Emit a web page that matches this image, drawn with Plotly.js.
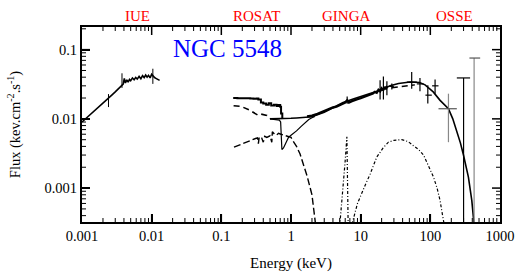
<!DOCTYPE html>
<html><head><meta charset="utf-8">
<script src="https://cdn.plot.ly/plotly-3.0.1.min.js"></script>
<style>html,body{margin:0;padding:0;background:#fff}#chart{width:521px;height:279px}</style>
</head><body><div id="chart"></div>
<script>
// ---- Data (energy in keV, flux in keV cm^-2 s^-1) ----
const iueE = [0.00100,0.00115,0.00130,0.00150,0.00170,0.00190,0.00215,0.00240,0.00270,0.00300,0.00330,0.00360,0.00375,0.00390,0.00405,0.00420,0.00440,0.00460,0.00480,0.00500,0.00530,0.00560,0.00590,0.00620,0.00660,0.00700,0.00740,0.00780,0.00820,0.00860,0.00900,0.00950,0.01000,0.01040,0.01070,0.01100,0.01150,0.01200,0.01300];
const iueF = [0.0090,0.0102,0.0113,0.0127,0.0142,0.0158,0.0177,0.0198,0.0222,0.0245,0.0268,0.0292,0.0305,0.0318,0.0385,0.0330,0.0365,0.0340,0.0372,0.0355,0.0390,0.0368,0.0395,0.0375,0.0410,0.0380,0.0420,0.0395,0.0430,0.0400,0.0425,0.0390,0.0440,0.0420,0.0400,0.0395,0.0385,0.0375,0.0360];
const iueErrUp = [0,0,0,0,0,0,0,0.0030,0,0,0,0,0.0150,0,0,0,0,0,0,0,0,0,0,0,0,0,0,0,0,0,0,0,0,0.0110,0,0,0,0,0];
const iueErrDn = [0,0,0,0,0,0,0,0.0050,0,0,0,0,0.0025,0,0,0,0,0,0,0,0,0,0,0,0,0,0,0,0,0,0,0,0,0.0100,0,0,0,0,0];

const rosatTopE = [0.148,0.17,0.20,0.23,0.26,0.29,0.32,0.34,0.37,0.40,0.44,0.48,0.52,0.57,0.62,0.66,0.70,0.72,0.75];
const rosatTopF = [0.0200,0.0199,0.0198,0.0199,0.0197,0.0196,0.0197,0.0190,0.0172,0.0166,0.0160,0.0168,0.0156,0.0160,0.0154,0.0158,0.0150,0.0120,0.0102];

const rosatMidE = [0.150,0.17,0.19,0.25,0.33,0.36,0.40,0.45,0.50];
const rosatMidF = [0.0155,0.0153,0.0152,0.0135,0.0114,0.0118,0.0115,0.0112,0.0101];

const softE = [0.152,0.17,0.19,0.22,0.25,0.28,0.31,0.33,0.34,0.35,0.38,0.40,0.42,0.45,0.50,0.53,0.54,0.58,0.62,0.66,0.72,0.80,0.90,1.00,1.07,1.2,1.35,1.5,1.7,2.0,2.16,2.25];
const softF = [0.0039,0.0041,0.0043,0.0046,0.0048,0.0050,0.0052,0.0053,0.0044,0.0055,0.0053,0.0046,0.0056,0.0054,0.0057,0.0046,0.0065,0.0060,0.0058,0.0062,0.0060,0.0058,0.0057,0.0054,0.0048,0.0040,0.0031,0.0023,0.0015,0.00080,0.00040,0.00030];

const absPlE = [0.50,0.60,0.68,0.71,0.72,0.74,0.78,0.85,0.92,1.0,1.1,1.2,1.4,1.6,1.8,2.0,2.2];
const absPlF = [0.0100,0.0099,0.0096,0.0090,0.0050,0.0036,0.0038,0.0046,0.0054,0.0058,0.0062,0.0067,0.0078,0.0089,0.0098,0.0104,0.0108];

const totalE = [0.5,0.6,0.7,0.8,1.0,1.2,1.5,2.0,3.0,4.0,5.6,8,12,19,26.5,35,51,70,84,110,138,160,182,210,240,270,299,330,352,394,415,440];
const totalF = [0.0100,0.0100,0.0100,0.0101,0.0102,0.0103,0.0104,0.0107,0.0125,0.0145,0.0172,0.0195,0.0222,0.0258,0.0300,0.0325,0.0340,0.0335,0.0310,0.0245,0.0185,0.0160,0.0140,0.0100,0.0068,0.0045,0.0030,0.0020,0.00144,0.00066,0.00040,0.00020];

const altE = [28,33,38,45,52,60];
const altF = [0.0282,0.0288,0.0293,0.0300,0.0305,0.0310];

const gingaE = [1.7,2.0,2.4,2.8,3.2,3.6,4.0,4.5,5.0,5.5,6.0,6.4,6.8,7.5,8.2,9.0,10,11,12,13,14,15,16,17,18,19,20,21,22,23,24];
const gingaF = [0.0108,0.0111,0.0118,0.0126,0.0132,0.0139,0.0146,0.0150,0.0158,0.0163,0.0172,0.0185,0.0172,0.0180,0.0188,0.0193,0.0200,0.0208,0.0212,0.0220,0.0226,0.0232,0.0245,0.0238,0.0262,0.0250,0.0275,0.0258,0.0290,0.0268,0.0300];

const gingaErrE = [6.4,19,21.2,23.8,28];
const gingaErrF = [0.0185,0.0270,0.0290,0.0280,0.0295];
const gingaErrUp = [0.0025,0.0090,0.0120,0.0070,0.0030];
const gingaErrDn = [0.0020,0.0080,0.0100,0.0060,0.0030];
const gingaErrX = [0,0,0,0,2];

const ironE = [5.0,5.5,6.0,6.34,6.5,6.6,6.65];
const ironF = [0.00028,0.0008,0.0025,0.0055,0.0018,0.0004,0.0002];

const reflE = [7.5,9,11.6,13.7,17,21,25,30,39,48,57,68,80,95,111,125,138,150,158];
const reflF = [0.0003,0.0006,0.0011,0.0016,0.0028,0.0038,0.0046,0.0049,0.0050,0.0047,0.0041,0.0036,0.0030,0.0021,0.00144,0.0010,0.00066,0.00040,0.0003];

const osseE = [54,71,92,117,300];
const osseF = [0.034,0.032,0.022,0.030,0.039];
const osseErrUp = [0.0134,0.007,0.0085,0.007,0];
const osseErrDn = [0.0067,0.007,0.0054,0.007,0.0388];
const osseErrXp = [10,9,13,14,72];
const osseErrXm = [8,7,7,11,60];

const osseGE = [182,425];
const osseGF = [0.014,0.0756];
const osseGErrUp = [0.0091,0];
const osseGErrDn = [0.0094,0.0754];
const osseGErrXp = [58,94];
const osseGErrXm = [51,61];

const xTickVals = [0.001,0.01,0.1,1,10,100,1000];
const xTickText = ['0.001','0.01','0.1','1','10','100','1000'];
const yTickVals = [0.001,0.01,0.1];
const yTickText = ['0.001','0.01','0.1'];

const missions = ['IUE','ROSAT','GINGA','OSSE'];
const missionX = [0.132,0.419,0.632,0.890];

const xRange = [-3,3];
const yRange = [-3.49,-0.673];

// minor tick positions: 2..9 times each decade, kept inside the axis range
function minorVals(range){const v=[];for(let e=Math.floor(range[0]);e<=Math.ceil(range[1]);e++){for(let d=2;d<=9;d++){const t=d*Math.pow(10,e);const l=Math.log10(t);if(l>range[0]&&l<range[1])v.push(t);}}return v;}
const xMinor = minorVals(xRange);
const yMinor = minorVals(yRange);

// ---- Traces ----
const K = '#000000';
function line(x,y,w,dash,color){return {x:x,y:y,type:'scatter',mode:'lines',line:{color:color||K,width:w,dash:dash||'solid'},hoverinfo:'skip',showlegend:false};}
function errs(x,y,up,dn,xp,xm,cy,cx){return {x:x,y:y,type:'scatter',mode:'markers',marker:{size:1,color:K,opacity:0},
  error_y:{type:'data',symmetric:false,array:up,arrayminus:dn,color:cy,thickness:1.2,width:0},
  error_x:{type:'data',symmetric:false,array:xp,arrayminus:xm,color:cx,thickness:1.2,width:0},hoverinfo:'skip',showlegend:false};}

const traces = [
  line(iueE,iueF,1.6),
  {x:iueE,y:iueF,type:'scatter',mode:'none',error_y:{type:'data',symmetric:false,array:iueErrUp,arrayminus:iueErrDn,color:K,thickness:1,width:0},hoverinfo:'skip',showlegend:false},
  Object.assign(line(rosatTopE,rosatTopF,2),{line:{color:K,width:2,shape:'hv'}}),
  line(rosatMidE,rosatMidF,1.6,'6px,4px'),
  line(softE,softF,1.4,'7px,3px'),
  line(absPlE,absPlF,1.2),
  line(totalE,totalF,1.6),
  line(altE,altF,1.4,'6px,4px'),
  line(gingaE,gingaF,2.4),
  errs(gingaErrE,gingaErrF,gingaErrUp,gingaErrDn,gingaErrX,gingaErrX,K,K),
  line(ironE,ironF,1.2,'3px,2px,1px,2px'),
  line(reflE,reflF,1.2,'3px,2px,1px,2px'),
  errs(osseE,osseF,osseErrUp,osseErrDn,osseErrXp,osseErrXm,K,K),
  errs(osseGE,osseGF,osseGErrUp,osseGErrDn,osseGErrXp,osseGErrXm,'#888888','#555555')
];

// ---- Tick marks on all four sides, placed through the axes ----
const shapes = [];
function xTicks(vals,len,w){vals.forEach(v=>{
  shapes.push({type:'line',xref:'x',yref:'paper',ysizemode:'pixel',yanchor:0,x0:v,x1:v,y0:0,y1:len,line:{color:K,width:w}});
  shapes.push({type:'line',xref:'x',yref:'paper',ysizemode:'pixel',yanchor:1,x0:v,x1:v,y0:0,y1:-len,line:{color:K,width:w}});
});}
function yTicks(vals,len,w){vals.forEach(v=>{
  shapes.push({type:'line',yref:'y',xref:'paper',xsizemode:'pixel',xanchor:0,y0:v,y1:v,x0:0,x1:len,line:{color:K,width:w}});
  shapes.push({type:'line',yref:'y',xref:'paper',xsizemode:'pixel',xanchor:1,y0:v,y1:v,x0:0,x1:-len,line:{color:K,width:w}});
});}
xTicks(xTickVals.slice(1,-1),8,1.5);
xTicks(xMinor,4,1);
yTicks(yTickVals,8,1.5);
yTicks(yMinor,4,1);

const serif = 'Liberation Serif';
const noGrid = 'rgba(0,0,0,0)';

const annotations = missions.map((m,i)=>({text:m,x:missionX[i],y:1.056,xref:'paper',yref:'paper',showarrow:false,
  font:{family:serif,size:15,color:'#ff0000'},xanchor:'center',yanchor:'middle'}));
annotations.push({text:'NGC 5548',x:0.347,y:0.892,xref:'paper',yref:'paper',showarrow:false,
  font:{family:serif,size:25,color:'#0000ff'},xanchor:'center',yanchor:'middle'});

const layout = {
  width:521,height:279,
  margin:{l:82,r:21,t:27,b:57,pad:0},
  showlegend:false,
  xaxis:{type:'log',range:xRange,showline:true,linewidth:2,linecolor:K,mirror:true,ticks:'inside',ticklen:8,tickwidth:1.5,tickcolor:K,
    gridcolor:noGrid,tickmode:'array',tickvals:xTickVals,ticktext:xTickText,tickfont:{family:serif,size:14.5,color:K},
    title:{text:'Energy (keV)',font:{family:serif,size:15,color:K},standoff:14}},
  yaxis:{type:'log',range:yRange,showline:true,linewidth:2,linecolor:K,mirror:true,ticks:'inside',ticklen:8,tickwidth:1.5,tickcolor:K,
    gridcolor:noGrid,tickmode:'array',tickvals:yTickVals,ticktext:yTickText,tickfont:{family:serif,size:14.5,color:K},
    title:{text:'Flux (kev.cm<sup>-2</sup>.s<sup>-1</sup>)',font:{family:serif,size:14.5,color:K},standoff:20}},
  shapes:shapes,
  annotations:annotations
};

Plotly.newPlot('chart',traces,layout,{displayModeBar:false});
</script></body></html>
